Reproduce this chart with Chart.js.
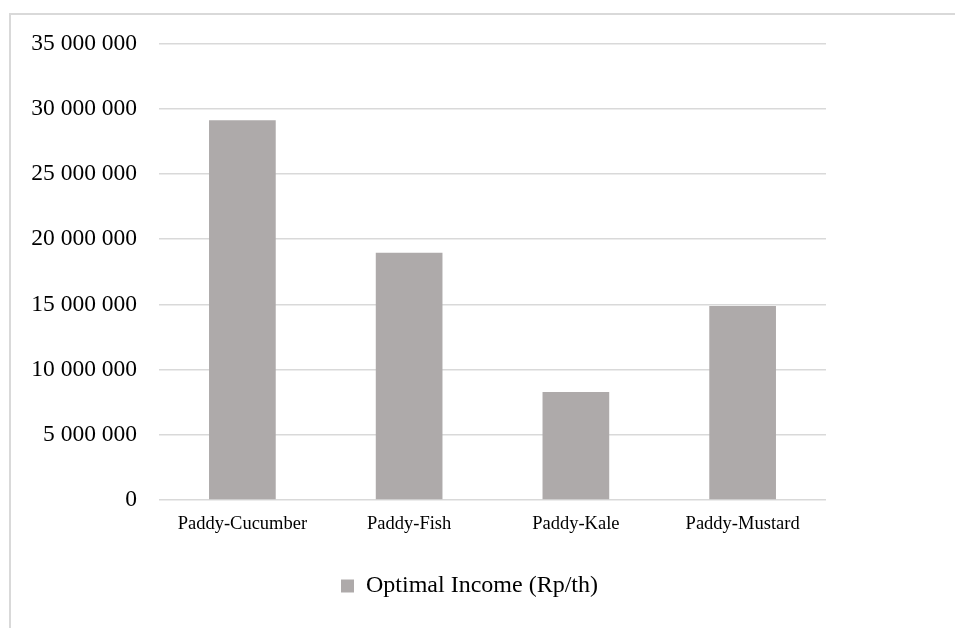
<!DOCTYPE html>
<html>
<head>
<meta charset="utf-8">
<script src="https://cdn.jsdelivr.net/npm/chart.js@4"></script>
<style>
  html, body { margin: 0; padding: 0; background: #fff; overflow: hidden; }
  #frame {
    position: absolute; left: 9px; top: 13px; width: 1000px; height: 700px;
    border-left: 2px solid #d9d9d9; border-top: 2px solid #d9d9d9;
  }
  #wrap { position: absolute; left: 0; top: 0; width: 955px; height: 628px; }
</style>
</head>
<body>
<div id="frame"></div>
<div id="wrap"><canvas id="incomeChart"></canvas></div>
<script>
const categories = ["Paddy-Cucumber", "Paddy-Fish", "Paddy-Kale", "Paddy-Mustard"];
const incomeValues = [29120000, 18960000, 8280000, 14880000];
const seriesName = "Optimal Income (Rp/th)";
const yTicks = [0, 5000000, 10000000, 15000000, 20000000, 25000000, 30000000, 35000000];

const serif = "'Liberation Serif', 'Times New Roman', serif";

function spaced(v) {
    return String(v).replace(/\B(?=(\d{3})+(?!\d))/g, " ");
}

const ctx = document.getElementById("incomeChart").getContext("2d");

new Chart(ctx, {
    type: "bar",
    data: {
        labels: categories,
        datasets: [{
            label: seriesName,
            data: incomeValues,
            backgroundColor: "#aeaaaa",
            borderWidth: 0,
            barPercentage: 0.4,
            categoryPercentage: 1
        }]
    },
    options: {
        responsive: true,
        maintainAspectRatio: false,
        animation: false,
        layout: { padding: { top: 43.5, right: 16, bottom: 20, left: 0 } },
        plugins: {
            tooltip: { enabled: false },
            legend: {
                position: "bottom",
                labels: {
                    color: "#000",
                    font: { family: serif, size: 24 },
                    boxWidth: 13,
                    boxHeight: 13,
                    padding: 10
                }
            }
        },
        scales: {
            x: {
                grid: { display: false },
                border: { display: false },
                ticks: {
                    color: "#000",
                    font: { family: serif, size: 18.5 },
                    padding: 5,
                    maxRotation: 0
                },
                afterFit: s => { s.height = 64; }
            },
            y: {
                min: 0,
                max: 35000000,
                afterBuildTicks: s => { s.ticks = yTicks.map(v => ({ value: v })); },
                grid: { color: "#d9d9d9", lineWidth: 1.5, drawTicks: false },
                border: { display: false },
                ticks: {
                    color: "#000",
                    font: { family: serif, size: 23.5 },
                    padding: 22,
                    callback: v => spaced(v)
                },
                afterFit: s => { s.width = 159; }
            },
            y2: {
                position: "right",
                grid: { display: false, drawTicks: false },
                border: { display: false },
                ticks: { display: false },
                afterFit: s => { s.width = 113; }
            }
        }
    }
});
</script>
</body>
</html>
